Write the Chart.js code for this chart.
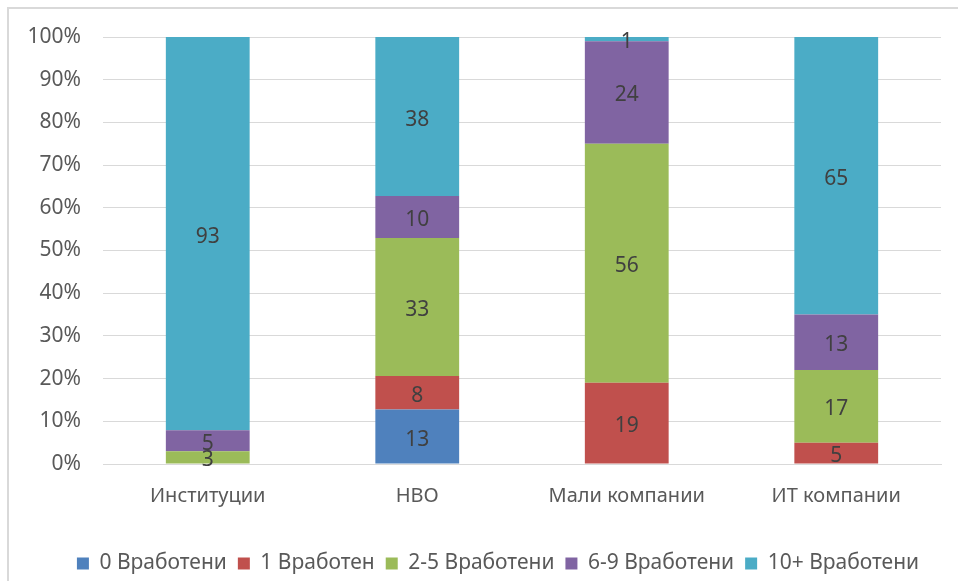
<!DOCTYPE html>
<html>
<head>
<meta charset="utf-8">
<script src="https://cdn.jsdelivr.net/npm/chart.js@4"></script>
<style>
  html, body { margin: 0; padding: 0; background: #fff; }
  #wrap { width: 958px; height: 581px; position: relative; }
</style>
</head>
<body>
<div id="wrap"><canvas id="chart"></canvas></div>
<script>
// categories and series (values shown on the bars)
const categories = ['Институции', 'НВО', 'Мали компании', 'ИТ компании'];
const seriesNames = ['0 Вработени', '1 Вработен', '2-5 Вработени', '6-9 Вработени', '10+ Вработени'];
const zeroEmp = [0, 13, 0, 0];
const oneEmp = [0, 8, 19, 5];
const twoToFive = [3, 33, 56, 17];
const sixToNine = [5, 10, 24, 13];
const tenPlus = [93, 38, 1, 65];
const colors = ['#4F81BD', '#C0504D', '#9BBB59', '#8064A2', '#4BACC6'];

const raw = [zeroEmp, oneEmp, twoToFive, sixToNine, tenPlus];
// 100% stacked: normalise each category
const totals = categories.map((c, i) => raw.reduce((s, arr) => s + arr[i], 0));

const datasets = raw.map((arr, k) => ({
  label: seriesNames[k],
  data: arr.map((v, i) => (v / totals[i]) * 100),
  raw: arr,
  backgroundColor: colors[k],
  borderWidth: 0,
  barPercentage: 0.8,
  categoryPercentage: 0.5,
}));

const font = "'Noto Sans', sans-serif";

const frame = {
  id: 'frame',
  beforeDraw(chart) {
    const ctx = chart.ctx;
    ctx.save();
    ctx.strokeStyle = '#d9d9d9';
    ctx.lineWidth = 2;
    ctx.beginPath();
    ctx.moveTo(8, 600);
    ctx.lineTo(8, 8);
    ctx.lineTo(960, 8);
    ctx.stroke();
    ctx.restore();
  },
};

const valueLabels = {
  id: 'valueLabels',
  afterDatasetsDraw(chart) {
    const ctx = chart.ctx;
    ctx.save();
    ctx.fillStyle = '#404040';
    ctx.font = '21px ' + font;
    ctx.textAlign = 'center';
    ctx.textBaseline = 'middle';
    chart.data.datasets.forEach((ds, k) => {
      chart.getDatasetMeta(k).data.forEach((bar, i) => {
        const v = ds.raw[i];
        if (!v) return;
        const y = (bar.y + bar.base) / 2 + 3;
        ctx.fillText(String(v), bar.x, y);
      });
    });
    ctx.restore();
  },
};

new Chart(document.getElementById('chart'), {
  type: 'bar',
  data: { labels: categories, datasets },
  options: {
    responsive: true,
    maintainAspectRatio: false,
    animation: false,
    // legend sits a bit right of centre in the original
    layout: { padding: { top: 37, right: -28, left: 10, bottom: -3 } },
    scales: {
      x: {
        stacked: true,
        grid: { display: false },
        border: { color: '#d9d9d9', width: 1 },
        ticks: { color: '#595959', font: { family: font, size: 20 }, padding: 12 },
        afterFit: (s) => { s.height = 78; },
      },
      y: {
        stacked: true,
        min: 0,
        max: 100,
        ticks: {
          stepSize: 10,
          color: '#595959',
          font: { family: font, size: 21 },
          padding: 22,
          callback: (v) => v + '%',
        },
        grid: { color: '#d9d9d9', lineWidth: 1, drawTicks: false },
        border: { display: false },
        afterFit: (s) => { s.width = 93; },
      },
      // empty spacer on the right
      yPad: {
        position: 'right',
        grid: { display: false },
        ticks: { display: false },
        border: { display: false },
        afterFit: (s) => { s.width = 45; },
      },
    },
    plugins: {
      legend: {
        position: 'bottom',
        labels: {
          color: '#595959',
          font: { family: font, size: 21 },
          boxWidth: 12,
          boxHeight: 12,
          padding: 11,
        },
      },
      tooltip: { enabled: false },
    },
  },
  plugins: [frame, valueLabels],
});
</script>
</body>
</html>
